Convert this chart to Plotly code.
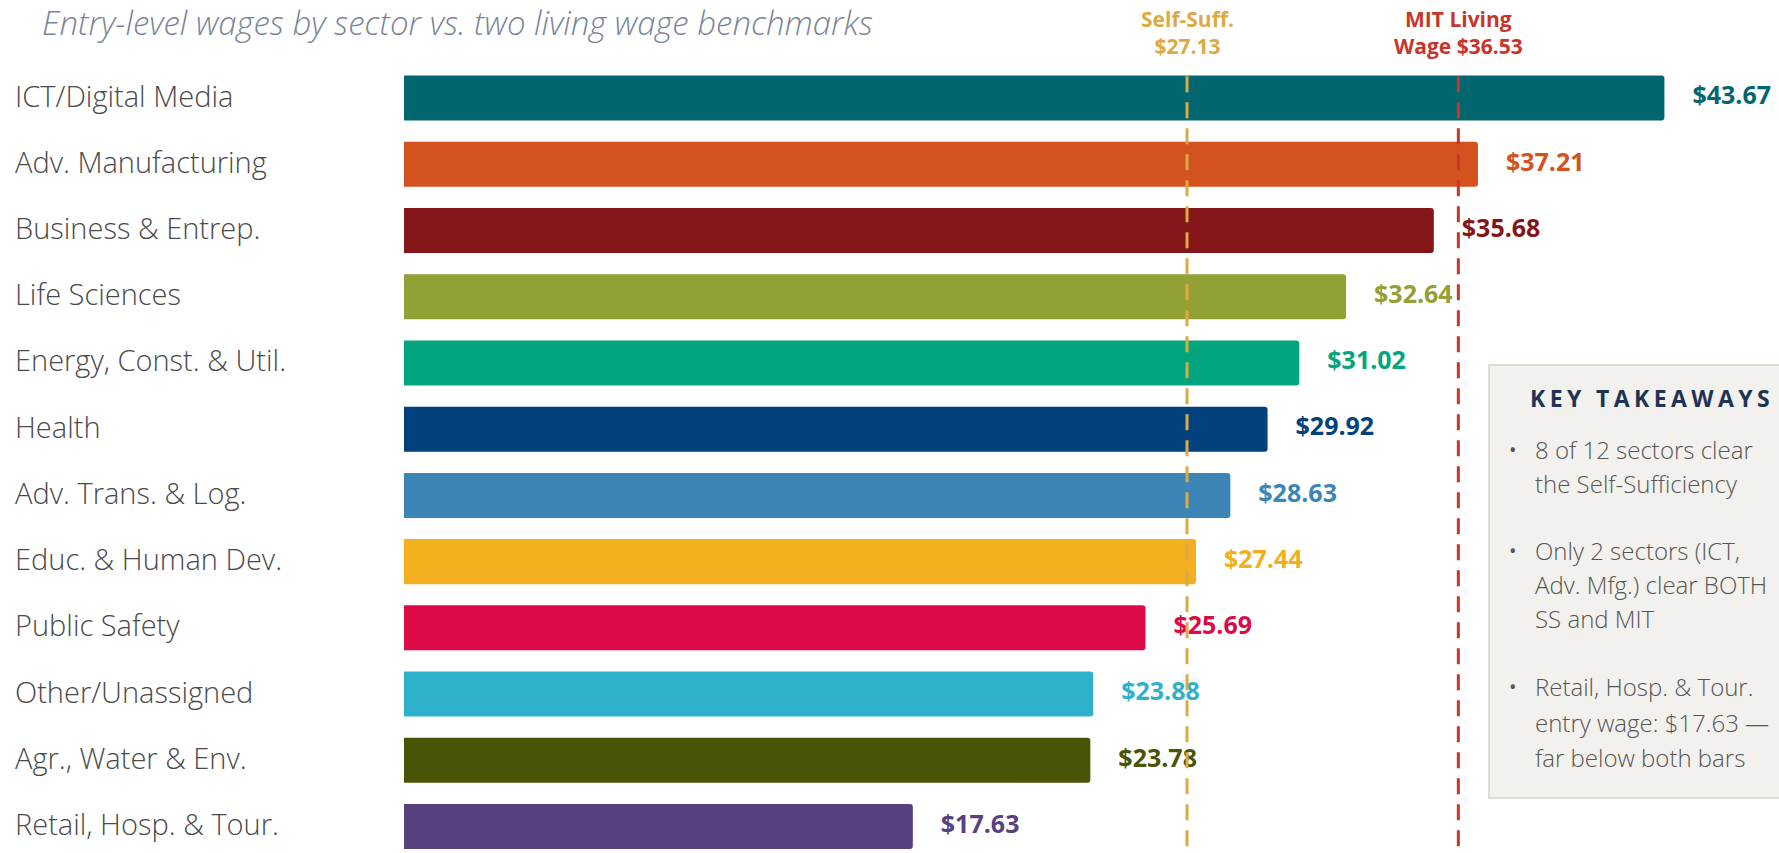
import plotly.graph_objects as go

# ---------------- data ----------------
sectors = [
    "ICT/Digital Media", "Adv. Manufacturing", "Business & Entrep.", "Life Sciences",
    "Energy, Const. & Util.", "Health", "Adv. Trans. & Log.", "Educ. & Human Dev.",
    "Public Safety", "Other/Unassigned", "Agr., Water & Env.", "Retail, Hosp. & Tour.",
]
wages = [43.67, 37.21, 35.68, 32.64, 31.02, 29.92, 28.63, 27.44, 25.69, 23.88, 23.78, 17.63]
bar_colors = [
    "#02666f", "#d35220", "#84161a", "#93a034", "#02a57e", "#01417c",
    "#3b85b7", "#f2b01e", "#dc0a47", "#30b1cb", "#4a5306", "#57427f",
]
value_labels = [f"${w:.2f}" for w in wages]

self_suff = 27.13
mit_wage = 36.53
self_suff_label = ["Self-Suff.", "$27.13"]
mit_label = ["MIT Living", "Wage $36.53"]

title_text = "Entry-level wages by sector vs. two living wage benchmarks"
takeaway_title = "KEY TAKEAWAYS"
takeaways = [
    ["8 of 12 sectors clear", "the Self-Sufficiency"],
    ["Only 2 sectors (ICT,", "Adv. Mfg.) clear BOTH", "SS and MIT"],
    ["Retail, Hosp. & Tour.", "entry wage: $17.63 —", "far below both bars"],
]

# ---------------- layout geometry ----------------
W, H = 1779, 853
L, R, T, B = 404, 0, 65, 0
PW, PH = W - L - R, H - T - B
X_MAX = 47.64
PX_PER_UNIT = PW / X_MAX
Y_RANGE = [11.4, -0.5]

FONT = "Open Sans, Montserrat, sans-serif"
SS_COLOR = "#dcaa45"
MIT_COLOR = "#c8352b"
TEXT_COLOR = "#4a4a4a"


def px_x(px):
    return (px - L) / PW


def px_y(py):
    return 1 - (py - T) / PH


ypos = list(range(len(sectors)))

fig = go.Figure()

fig.add_trace(go.Bar(
    x=wages, y=ypos, orientation="h",
    marker=dict(color=bar_colors, line=dict(width=0)),
    width=0.68, hoverinfo="skip", showlegend=False,
))

label_gap = 28 / PX_PER_UNIT
fig.add_trace(go.Scatter(
    x=[w + label_gap for w in wages], y=ypos, mode="text",
    text=value_labels, textposition="middle right",
    textfont=dict(family=FONT, size=25, color=bar_colors, weight="bold"),
    hoverinfo="skip", showlegend=False, cliponaxis=False,
))

for val, col in [(self_suff, SS_COLOR), (mit_wage, MIT_COLOR)]:
    fig.add_trace(go.Scatter(
        x=[val, val], y=[-0.33, Y_RANGE[0]], mode="lines",
        line=dict(color=col, width=3, dash="16px,10px"),
        hoverinfo="skip", showlegend=False, cliponaxis=False,
    ))

annotations = []
# category labels (left aligned)
for i, s in enumerate(sectors):
    annotations.append(dict(
        x=px_x(13), xref="paper", xanchor="left", y=i, yref="y", yanchor="middle",
        yshift=3, text=s, showarrow=False,
        font=dict(family=FONT, size=29, color=TEXT_COLOR, weight=300),
    ))

# benchmark labels
for val, lines, col in [(self_suff, self_suff_label, SS_COLOR), (mit_wage, mit_label, MIT_COLOR)]:
    annotations.append(dict(
        x=val, xref="x", xanchor="center", y=px_y(32), yref="paper", yanchor="middle",
        text="<br>".join(lines), showarrow=False, align="center",
        font=dict(family=FONT, size=21, color=col, weight="bold"),
    ))

# takeaways
annotations.append(dict(
    x=px_x(1528), xref="paper", xanchor="left", y=px_y(398), yref="paper", yanchor="middle",
    text='<span style="letter-spacing:4.4px">' + takeaway_title + "</span>", showarrow=False,
    font=dict(family=FONT, size=23, color="#1f3354", weight="bold"),
))
line_ys = [[449, 483], [550, 584, 618], [686, 722, 757]]
for bullet, ys in zip(takeaways, line_ys):
    annotations.append(dict(
        x=px_x(1507), xref="paper", xanchor="left", y=px_y(ys[0]), yref="paper", yanchor="middle",
        text="•", showarrow=False, font=dict(family=FONT, size=20, color="#555555"),
    ))
    for ln, py in zip(bullet, ys):
        annotations.append(dict(
            x=px_x(1533), xref="paper", xanchor="left", y=px_y(py), yref="paper", yanchor="middle",
            text=ln, showarrow=False, font=dict(family=FONT, size=24, color="#555555", weight=300),
        ))

shapes = [dict(
    type="rect", xref="paper", yref="paper",
    x0=px_x(1489), x1=px_x(1850), y0=px_y(798), y1=px_y(365),
    fillcolor="#f2f1ed", line=dict(color="#dddcd6", width=2), layer="above",
)]

fig.update_layout(
    width=W, height=H,
    margin=dict(l=L, r=R, t=T, b=B, pad=0),
    paper_bgcolor="white", plot_bgcolor="white",
    barcornerradius=3,
    title=dict(
        text=title_text, xref="container", yref="container",
        x=42 / W, xanchor="left", y=1 - 23 / H, yanchor="middle",
        font=dict(family=FONT, size=33, color="#7b8598", style="italic", weight=300),
    ),
    xaxis=dict(range=[0, X_MAX], visible=False, fixedrange=True),
    yaxis=dict(range=Y_RANGE, visible=False, fixedrange=True),
    annotations=annotations,
    shapes=shapes,
    showlegend=False,
)

fig.write_html(
    "out.html",
    config={"displayModeBar": False},
    post_script="document.body.style.margin='0px';document.body.style.overflow='hidden';",
)
